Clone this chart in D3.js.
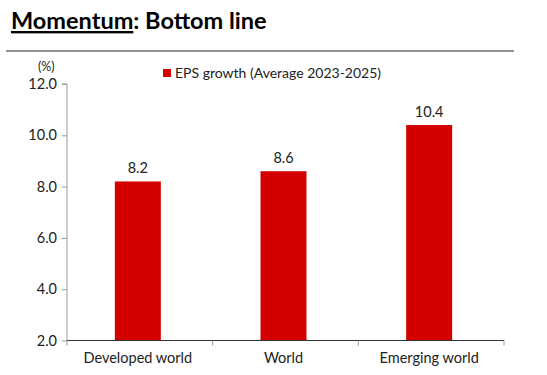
<!DOCTYPE html>
<html><head><meta charset="utf-8">
<script src="https://cdn.jsdelivr.net/npm/d3@7"></script>
<style>body{margin:0;background:#fff;}text{font-family:Lato,"Open Sans",sans-serif;}</style>
</head><body><svg id="c" width="547" height="375"></svg>
<script>
const categories = ["Developed world","World","Emerging world"];
const values = [8.2, 8.6, 10.4];
const yTicks = [2,4,6,8,10,12];
const seriesName = "EPS growth (Average 2023-2025)";

const svg = d3.select("#c");
const m = {l:67, r:43, t:84, b:34};
const W = 547, H = 375;
const x = d3.scaleBand().domain(categories).range([m.l, W - m.r]).paddingInner(0).paddingOuter(0);
const y = d3.scaleLinear().domain([2,12]).range([340.5, 84]);

// title
const t = svg.append("text").attr("x",11).attr("y",29).attr("font-size",23.5).attr("font-weight","bold").attr("fill","#000");
t.append("tspan").attr("text-decoration","underline").text("Momentum");
t.append("tspan").text(": Bottom line");
svg.append("line").attr("x1",6).attr("x2",514).attr("y1",51).attr("y2",51).attr("stroke","#6e6e6e").attr("stroke-width",1.3);

// bars
const bw = 46;
svg.selectAll("rect.bar").data(values).join("rect").attr("class","bar")
  .attr("x",(d,i)=>x(categories[i]) + x.bandwidth()/2 - bw/2 - 2)
  .attr("width",bw)
  .attr("y",d=>y(d)).attr("height",d=>y(2)-y(d)).attr("fill","#d40000");
svg.selectAll("text.val").data(values).join("text").attr("class","val")
  .attr("x",(d,i)=>x(categories[i]) + x.bandwidth()/2 - 2)
  .attr("y",d=>y(d)-8).attr("text-anchor","middle").attr("font-size",14.5).attr("fill","#222")
  .text(d=>d.toFixed(1));

// y axis
const ya = svg.append("g").attr("transform",`translate(${m.l},0)`)
  .call(d3.axisLeft(y).tickValues(yTicks).tickFormat(d3.format(".1f")).tickSize(5).tickPadding(5));
ya.select(".domain").attr("stroke","#999").attr("d",`M-5,${y(12)}H0V${y(2)}`);
ya.selectAll(".tick line").attr("stroke","#999");
ya.selectAll(".tick text").attr("font-size",14.5).attr("fill","#222").attr("font-family","Lato,'Open Sans',sans-serif");

// x axis
const xa = svg.append("g").attr("transform",`translate(0,${y(2)})`)
  .call(d3.axisBottom(x).tickSize(0).tickPadding(12));
xa.select(".domain").attr("stroke","#333").attr("d",`M${m.l},0H${W-m.r}`);
xa.selectAll(".tick text").attr("font-size",14.5).attr("fill","#222").attr("font-family","Lato,'Open Sans',sans-serif")
  .attr("dx",-2);
const bounds = categories.map(c=>x(c)).concat([x(categories[categories.length-1])+x.bandwidth()]);
svg.append("g").selectAll("line").data(bounds).join("line")
  .attr("x1",d=>d).attr("x2",d=>d).attr("y1",y(2)).attr("y2",y(2)+5).attr("stroke","#999");

// unit label
svg.append("text").attr("x",38).attr("y",71).attr("font-size",12.5).attr("fill","#222").text("(%)");

// legend
svg.append("rect").attr("x",163).attr("y",69).attr("width",8).attr("height",8).attr("fill","#d40000");
svg.append("text").attr("x",175).attr("y",78).attr("font-size",14).attr("fill","#222").text(seriesName);
</script></body></html>
